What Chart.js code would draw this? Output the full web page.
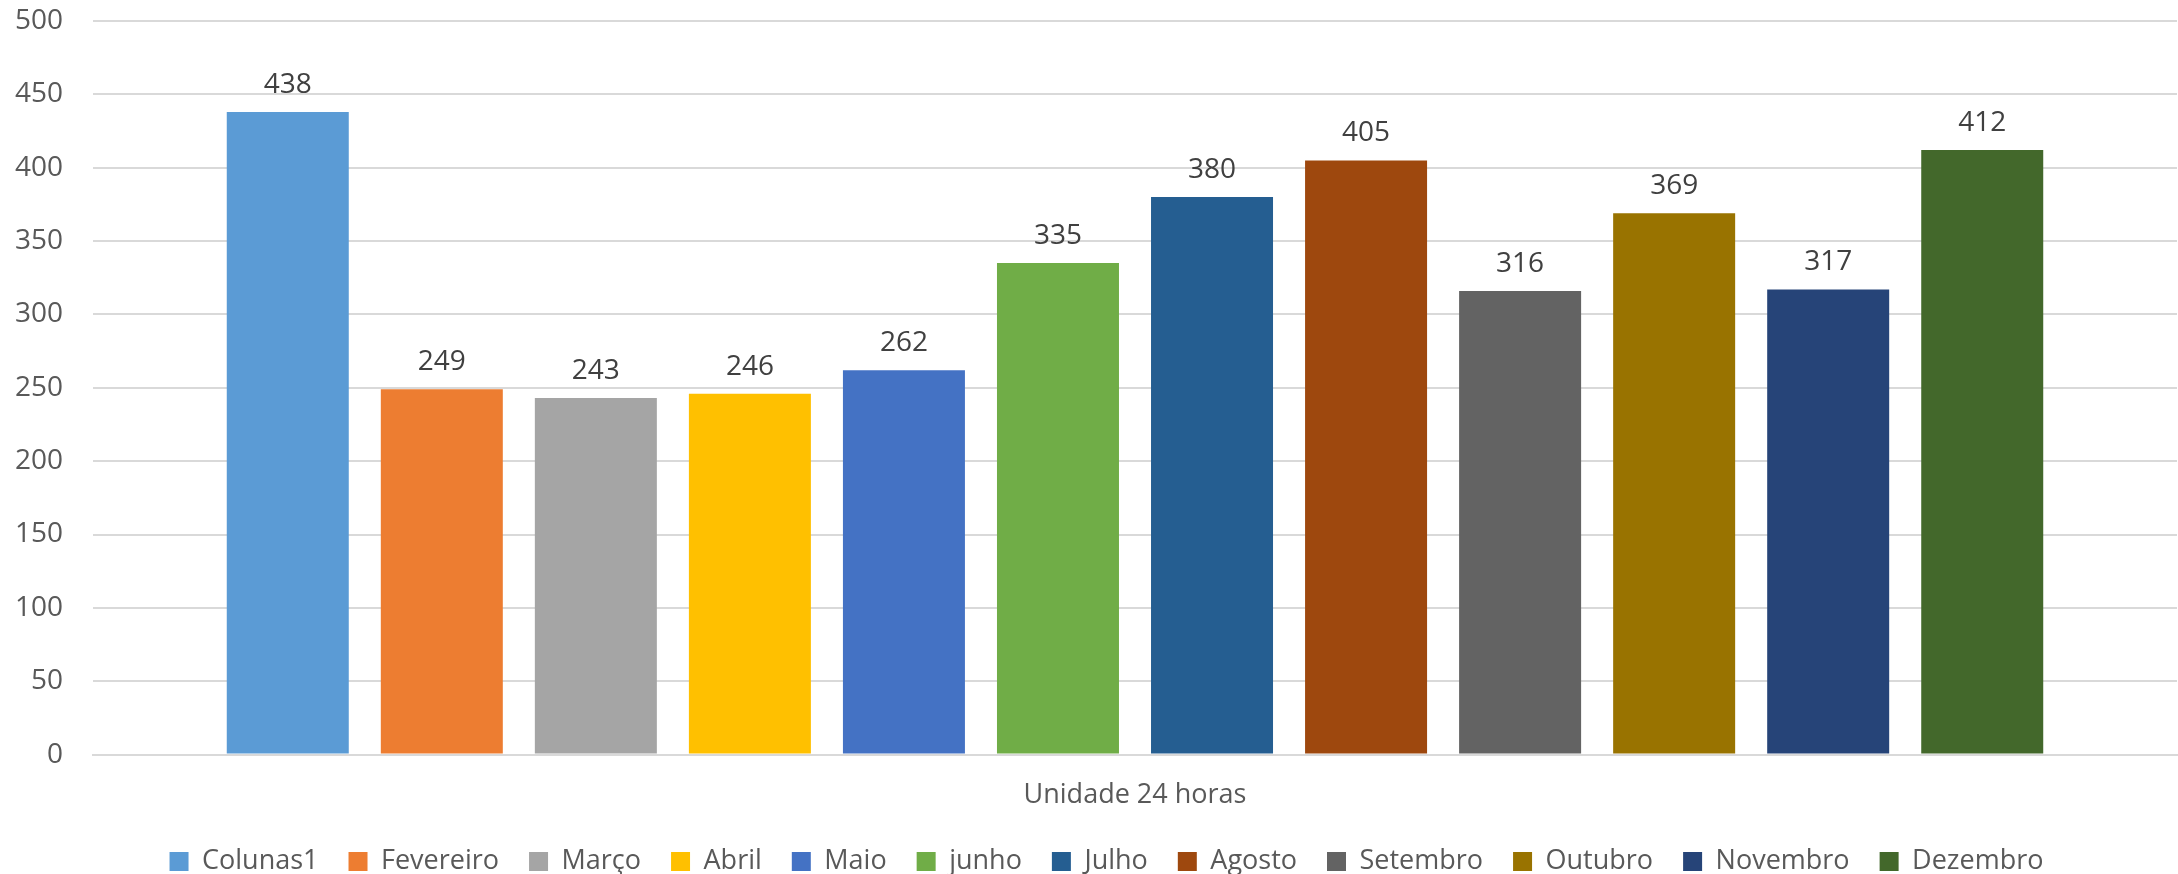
<!DOCTYPE html>
<html>
<head>
<meta charset="utf-8">
<script src="https://cdn.jsdelivr.net/npm/chart.js@4"></script>
<style>
  html, body { margin: 0; padding: 0; background: #fff; }
  #wrap { width: 2178px; height: 874px; }
</style>
</head>
<body>
<div id="wrap"><canvas id="chart"></canvas></div>
<script>
// data
const categories = ['Unidade 24 horas'];
const seriesNames = ['Colunas1', 'Fevereiro', 'Março', 'Abril', 'Maio', 'junho', 'Julho', 'Agosto', 'Setembro', 'Outubro', 'Novembro', 'Dezembro'];
const seriesValues = [438, 249, 243, 246, 262, 335, 380, 405, 316, 369, 317, 412];
const seriesColors = ['#5B9BD5', '#ED7D31', '#A5A5A5', '#FFC000', '#4472C4', '#70AD47', '#255E91', '#9E480E', '#636363', '#997300', '#264478', '#43682B'];
const yTicks = [0, 50, 100, 150, 200, 250, 300, 350, 400, 450, 500];

const FONT = "'Open Sans', 'DejaVu Sans', sans-serif";

// value labels on top of the bars
const valueLabels = {
  id: 'valueLabels',
  afterDatasetsDraw(chart) {
    const ctx = chart.ctx;
    ctx.save();
    ctx.font = '28px ' + FONT;
    ctx.fillStyle = '#404040';
    ctx.textAlign = 'center';
    ctx.textBaseline = 'middle';
    chart.data.datasets.forEach((ds, i) => {
      chart.getDatasetMeta(i).data.forEach((bar, j) => {
        ctx.fillText(ds.data[j], bar.x, bar.y - 27);
      });
    });
    ctx.restore();
  }
};

// legend sits a bit closer to the axis label (and a bit right) compared with chart.js default
const legendNudge = {
  id: 'legendNudge',
  afterLayout(chart) {
    if (chart.legend) {
      chart.legend.top -= 19;
      chart.legend.bottom -= 19;
      chart.legend.left += 18;
      chart.legend.right += 18;
    }
  }
};

const datasets = seriesNames.map((name, i) => ({
  label: name,
  data: [seriesValues[i]],
  backgroundColor: seriesColors[i],
  borderWidth: 0,
  categoryPercentage: 0.887,
  barPercentage: 0.792
}));

new Chart(document.getElementById('chart').getContext('2d'), {
  type: 'bar',
  data: { labels: categories, datasets: datasets },
  plugins: [valueLabels, legendNudge],
  options: {
    responsive: true,
    maintainAspectRatio: false,
    animation: false,
    layout: { padding: { top: 21, right: 1, bottom: -30, left: 0 } },
    plugins: {
      tooltip: { enabled: false },
      legend: {
        position: 'bottom',
        labels: {
          font: { family: FONT, size: 27 },
          color: '#595959',
          boxWidth: 19,
          boxHeight: 19,
          padding: 30
        }
      }
    },
    scales: {
      x: {
        grid: { display: false, drawTicks: false },
        border: { color: '#D9D9D9', width: 2 },
        ticks: { font: { family: FONT, size: 27 }, color: '#595959', padding: 25 }
      },
      y: {
        min: 0,
        max: 500,
        afterFit(scale) {
          scale.width = 93;
          scale.paddingTop = 0;
          scale.paddingBottom = 0;
        },
        afterBuildTicks(scale) { scale.ticks = yTicks.map(v => ({ value: v })); },
        grid: { color: '#D9D9D9', lineWidth: 2, drawTicks: false },
        border: { display: false },
        ticks: { font: { family: FONT, size: 28 }, color: '#595959', padding: 30 }
      }
    }
  }
});
</script>
</body>
</html>
